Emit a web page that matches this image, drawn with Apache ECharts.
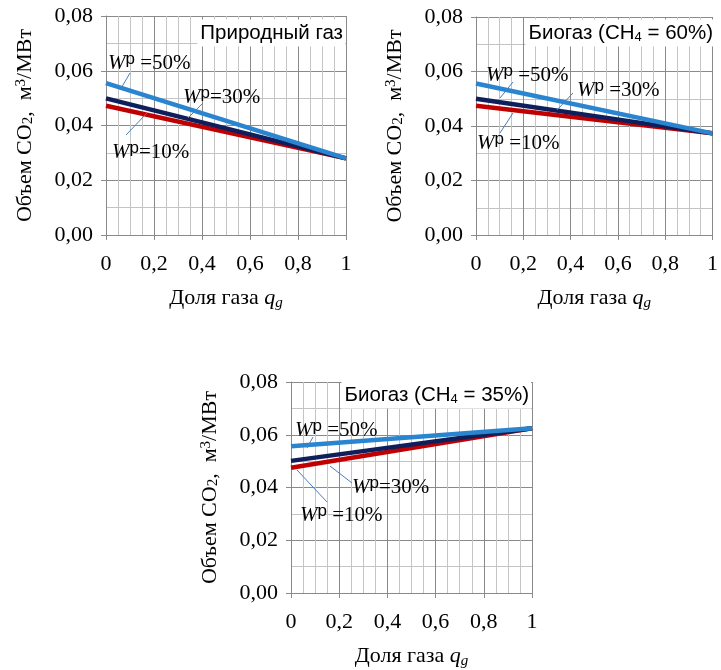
<!DOCTYPE html>
<html>
<head>
<meta charset="utf-8">
<script src="https://cdn.jsdelivr.net/npm/echarts@6/dist/echarts.min.js"></script>
<style>
  body { margin: 0; background: #fff; }
  #chart { width: 721px; height: 670px; }
</style>
</head>
<body>
<div id="chart"></div>
<script>
// доля газа (концы прямых)
const qg = [0, 1]
// природный газ
const natGas10 = [0.0472, 0.0280]
const natGas30 = [0.0499, 0.0280]
const natGas50 = [0.0555, 0.0280]
// биогаз CH4 = 60%
const bio60_10 = [0.0474, 0.0373]
const bio60_30 = [0.0500, 0.0373]
const bio60_50 = [0.0556, 0.0373]
// биогаз CH4 = 35%
const bio35_10 = [0.0475, 0.0625]
const bio35_30 = [0.0501, 0.0625]
const bio35_50 = [0.0556, 0.0625]

const panelTitles = ['Природный газ', 'Биогаз (CH{s|4} = 60%)', 'Биогаз (CH{s|4} = 35%)']
// порядок: 10%, 30%, 50%
const wLabels = [
  ['{w|W}{p|p}{t|=10%}', '{w|W}{p|p}{t|=30%}', '{w|W}{p|p}{t| =50%}'],
  ['{w|W}{p|p}{t| =10%}', '{w|W}{p|p}{t| =30%}', '{w|W}{p|p}{t| =50%}'],
  ['{w|W}{p|p}{t| =10%}', '{w|W}{p|p}{t|=30%}', '{w|W}{p|p}{t| =50%}']
]

const SERIF = '"Liberation Serif", "Times New Roman", serif'
const SANS = '"Liberation Sans", Arial, sans-serif'
const colors = ['#c00000', '#0f1f5c', '#2a85d0']
const major = '#8a8a8a'
const minor = '#c4c4c4'

var myChart = echarts.init(document.getElementById('chart'))

const grids = [
  { left: 106, top: 16, width: 240, height: 219 },
  { left: 476, top: 17, width: 240, height: 218 },
  { left: 291, top: 382, width: 241, height: 217 }
]

function xAxisOf(i) {
  return {
    type: 'value', gridIndex: i, min: 0, max: 1, interval: 0.2,
    axisLine: { lineStyle: { color: major } },
    axisTick: { show: true, length: 5, lineStyle: { color: major } },
    minorTick: { show: false, splitNumber: 4 },
    splitLine: { show: true, lineStyle: { color: major } },
    minorSplitLine: { show: true, lineStyle: { color: minor } },
    axisLabel: {
      margin: 18, color: '#000', fontFamily: SERIF, fontSize: 22,
      formatter: v => (v === 0 || v === 1) ? String(v) : v.toFixed(1).replace('.', ',')
    },
    name: 'Доля газа {q|q}{g|g}',
    nameLocation: 'middle', nameGap: 50,
    nameTextStyle: {
      color: '#000', fontFamily: SERIF, fontSize: 22,
      rich: {
        q: { fontFamily: SERIF, fontSize: 22, fontStyle: 'italic', lineHeight: 26 },
        g: { fontFamily: SERIF, fontSize: 15, fontStyle: 'italic', verticalAlign: 'bottom', lineHeight: 14 }
      }
    }
  }
}

function yAxisOf(i) {
  return {
    type: 'value', gridIndex: i, min: 0, max: 0.08, interval: 0.02,
    axisLine: { show: true, lineStyle: { color: major } },
    axisTick: { show: true, length: 5, lineStyle: { color: major } },
    minorTick: { show: false, splitNumber: 2 },
    splitLine: { show: true, lineStyle: { color: major } },
    minorSplitLine: { show: true, lineStyle: { color: minor } },
    axisLabel: {
      margin: 13, color: '#000', fontFamily: SERIF, fontSize: 22,
      formatter: v => v.toFixed(2).replace('.', ',')
    },
    name: 'Объем CO{sub|2},  м{sup|3}/МВт',
    nameLocation: 'middle', nameGap: 70,
    nameTextStyle: {
      color: '#000', fontFamily: SERIF, fontSize: 22,
      rich: {
        sub: { fontFamily: SERIF, fontSize: 15, verticalAlign: 'bottom', lineHeight: 14 },
        sup: { fontFamily: SERIF, fontSize: 15, verticalAlign: 'top', lineHeight: 14 }
      }
    }
  }
}

function lineSeries(i, values, color) {
  return {
    type: 'line', xAxisIndex: i, yAxisIndex: i,
    data: qg.map((x, k) => [x, values[k]]),
    symbol: 'none', silent: true, animation: false,
    lineStyle: { color: color, width: 4.5 }
  }
}

const panelData = [
  [natGas10, natGas30, natGas50],
  [bio60_10, bio60_30, bio60_50],
  [bio35_10, bio35_30, bio35_50]
]

var series = []
panelData.forEach((set, i) => {
  set.forEach((vals, k) => series.push(lineSeries(i, vals, colors[k])))
})

// подписи W и выноски (в пикселях), порядок 10%, 30%, 50%
const labelPos = [
  [[112, 152], [183, 97], [108, 63]],
  [[477, 143], [577, 90], [486, 75]],
  [[300, 515], [352, 487], [295, 430]]
]
const leaders = [
  [[126, 135, 147, 113], [188, 118, 203, 103], [120, 90, 130, 73]],
  [[500, 133, 513, 113], [557, 110, 573, 93], [500, 98, 513, 82]],
  [[297, 470, 327, 502], [330, 466, 352, 483], [307, 448, 313, 437]]
]
const titlePos = [[345, 33], [715, 33], [531, 395]]

const wRich = {
  w: { fontFamily: SERIF, fontSize: 21, fontStyle: 'italic', lineHeight: 24 },
  p: { fontFamily: SANS, fontSize: 17, verticalAlign: 'top', lineHeight: 19 },
  t: { fontFamily: SERIF, fontSize: 21, lineHeight: 24 }
}

var graphic = []
for (let i = 0; i < 3; i++) {
  graphic.push({
    type: 'text', x: titlePos[i][0], y: titlePos[i][1], z: 100,
    style: {
      text: panelTitles[i], align: 'right', verticalAlign: 'middle',
      fontFamily: SANS, fontSize: 20.5, fill: '#000',
      backgroundColor: '#fff', padding: [3, 2, 3, 3],
      rich: {
        s: { fontFamily: SANS, fontSize: 13, verticalAlign: 'bottom', lineHeight: 12 }
      }
    }
  })
  for (let k = 0; k < 3; k++) {
    const l = leaders[i][k]
    graphic.push({
      type: 'line', z: 100,
      shape: { x1: l[0], y1: l[1], x2: l[2], y2: l[3] },
      style: { stroke: '#4a7ebb', lineWidth: 1 }
    })
    graphic.push({
      type: 'text', x: labelPos[i][k][0], y: labelPos[i][k][1], z: 100,
      style: {
        text: wLabels[i][k], align: 'left', verticalAlign: 'middle',
        fontFamily: SERIF, fontSize: 21, fill: '#000', rich: wRich
      }
    })
  }
}

var option = {
  backgroundColor: '#fff',
  animation: false,
  grid: grids,
  xAxis: [xAxisOf(0), xAxisOf(1), xAxisOf(2)],
  yAxis: [yAxisOf(0), yAxisOf(1), yAxisOf(2)],
  series: series,
  graphic: graphic
}
myChart.setOption(option)
</script>
</body>
</html>
